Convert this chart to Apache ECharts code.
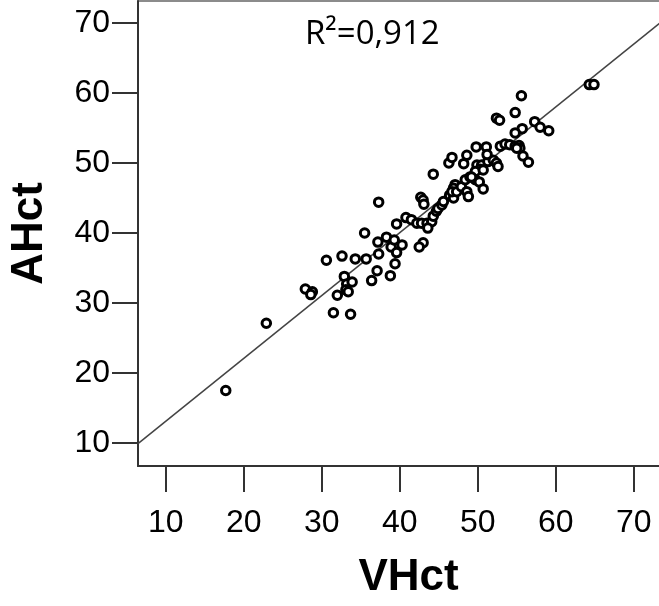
<!DOCTYPE html>
<html>
<head>
<meta charset="utf-8">
<script src="https://cdn.jsdelivr.net/npm/echarts@6/dist/echarts.min.js"></script>
<style>html,body{margin:0;padding:0;background:#fff;}#c{width:659px;height:606px;}</style>
</head>
<body>
<div id="c"></div>
<script>
const vhct = [17.7,22.9,27.9,28.8,28.6,30.6,31.5,32.0,32.6,32.9,
  33.2,33.1,33.4,33.7,33.9,34.3,35.5,35.7,36.4,37.1,
  37.2,37.3,37.3,38.3,38.8,38.9,39.3,39.4,39.6,39.6,
  40.3,40.8,41.5,42.2,42.8,43.5,44.1,43.6,42.7,43.0,
  43.1,43.0,42.5,44.3,44.3,44.7,44.9,45.4,45.6,46.3,
  46.7,46.4,46.9,47.1,46.9,46.7,47.3,47.9,48.6,48.8,
  48.2,48.6,48.4,49.0,49.7,50.2,49.8,51.1,49.9,50.5,
  51.3,52.0,52.4,50.3,49.7,50.7,52.6,50.7,51.2,49.2,
  52.4,52.8,52.9,53.5,54.1,54.8,55.3,55.4,55.0,54.8,
  55.6,57.3,58.0,59.1,55.7,54.8,55.8,56.5,64.3,64.9];
const ahct = [17.5,27.1,32.0,31.6,31.2,36.1,28.6,31.1,36.7,33.8,
  32.7,31.9,31.6,28.4,33.0,36.3,40.0,36.3,33.2,34.6,
  38.7,37.0,44.4,39.4,33.9,38.0,39.0,35.6,37.2,41.3,
  38.3,42.2,41.9,41.4,41.4,41.4,41.6,40.7,45.1,44.7,
  44.1,38.6,38.0,48.4,42.4,43.1,43.5,44.0,44.5,50.0,
  50.8,45.4,45.0,46.9,46.4,45.9,45.9,46.6,45.9,45.2,
  49.9,51.1,47.6,48.0,47.6,47.3,52.3,52.3,49.7,49.7,
  50.2,50.4,50.0,49.1,48.8,49.0,49.5,46.3,51.2,48.0,
  56.4,56.1,52.4,52.7,52.6,52.4,52.5,52.1,52.1,57.2,
  59.6,55.9,55.1,54.6,54.9,54.3,51.0,50.1,61.2,61.2];
const xTicks = [10,20,30,40,50,60,70];
const yTicks = [10,20,30,40,50,60,70];
const fitIntercept = 4.13;
const fitSlope = 0.898;
const r2Label = 'R²=0,912';
const xName = 'VHct';
const yName = 'AHct';

const xMin = 6.45, xMax = 75.8;
const yMin = 6.714, yMax = 73.14;

const points = vhct.map((v, i) => [v, ahct[i]]);
const fitLine = [[xMin, fitIntercept + fitSlope * xMin], [xMax, fitIntercept + fitSlope * xMax]];

const axisCol = '#333';
const chart = echarts.init(document.getElementById('c'), null, {renderer: 'canvas'});
chart.setOption({
  animation: false,
  backgroundColor: '#fff',
  grid: {left: 138, top: 1, right: -20, bottom: 140, containLabel: false, outerBoundsMode: 'none',
         show: true, borderColor: '#666', borderWidth: 1.5, backgroundColor: 'transparent'},
  xAxis: {
    type: 'value', min: xMin, max: xMax,
    axisLine: {show: true, onZero: false, lineStyle: {color: axisCol, width: 2}},
    axisTick: {show: true, inside: false, length: 26, customValues: xTicks, lineStyle: {color: axisCol, width: 2}},
    axisLabel: {customValues: xTicks, fontSize: 32, fontFamily: 'Liberation Sans', color: '#000', margin: 41},
    splitLine: {show: false},
    name: xName, nameLocation: 'middle', nameGap: 90,
    nameTextStyle: {fontSize: 44, fontWeight: 'bold', fontFamily: 'Liberation Sans', color: '#000'}
  },
  yAxis: {
    type: 'value', min: yMin, max: yMax,
    axisLine: {show: true, onZero: false, lineStyle: {color: axisCol, width: 2}},
    axisTick: {show: true, inside: false, length: 26, customValues: yTicks, lineStyle: {color: axisCol, width: 2}},
    axisLabel: {customValues: yTicks, fontSize: 32, fontFamily: 'Liberation Sans', color: '#000', margin: 28},
    splitLine: {show: false},
    name: yName, nameLocation: 'middle', nameGap: 86,
    nameTextStyle: {fontSize: 44, fontWeight: 'bold', fontFamily: 'Liberation Sans', color: '#000'}
  },
  graphic: [{
    type: 'text', left: 305, top: 18,
    style: {text: r2Label, fontSize: 33, fontFamily: 'Open Sans', fill: '#000'}
  }],
  series: [
    {type: 'line', data: fitLine, symbol: 'none', silent: true, z: 1,
     lineStyle: {color: '#444', width: 1.5}},
    {type: 'scatter', data: points, symbol: 'circle', symbolSize: 8.5, z: 3,
     itemStyle: {color: '#fff', borderColor: '#000', borderWidth: 3, opacity: 1}}
  ]
});
</script>
</body>
</html>
